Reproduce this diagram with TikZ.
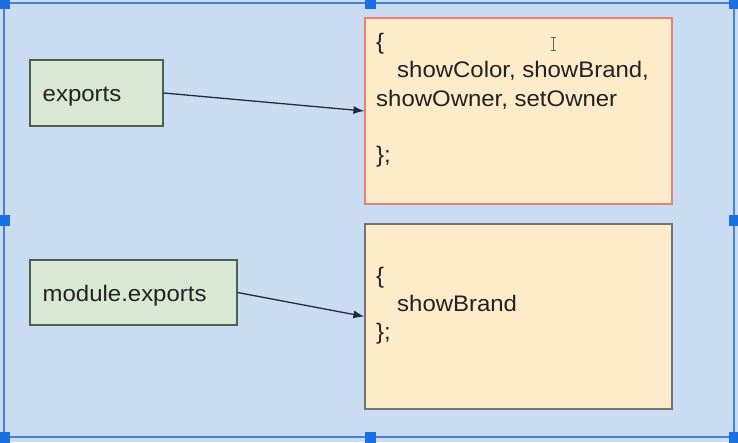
\documentclass[tikz,border=0pt]{standalone}
\usepackage{fontspec}
\usepackage{graphicx}
\setmainfont{Liberation Sans}
\usetikzlibrary{arrows.meta}
\definecolor{bgblue}{HTML}{C9DCF1}
\definecolor{framec}{HTML}{4A80D6}
\definecolor{handlec}{HTML}{1A6FE2}
\definecolor{greenfill}{HTML}{D9E8D2}
\definecolor{greenline}{HTML}{4E5E50}
\definecolor{orangefill}{HTML}{FDEBCA}
\definecolor{redline}{HTML}{E8807A}
\definecolor{grayline}{HTML}{747474}
\definecolor{arrowc}{HTML}{1F2B45}
\definecolor{textc}{HTML}{222222}
\newcommand{\wtxt}[1]{\scalebox{1.065}[1]{#1}}
\tikzset{
  greenbox/.style={draw=greenline, fill=greenfill, line width=1.2pt, rectangle, inner sep=0pt},
  codebox/.style={fill=orangefill, line width=1.2pt, rectangle, inner sep=0pt},
  label/.style={inner sep=0pt, anchor=base west, text=textc, font=\fontsize{22.5}{27}\selectfont},
  link/.style={draw=arrowc, line width=1.3pt, -{Latex[length=11pt,width=8pt]}},
  handle/.style={fill=handlec},
  frame/.style={draw=framec, line width=2.2pt}
}
\begin{document}
\begin{tikzpicture}[x=1pt,y=-1pt]
\useasboundingbox (0,0) rectangle (738,442);
\fill[bgblue] (0,0) rectangle (738,442);
% selection frame
\draw[frame] (4,3) rectangle (734,437);
\foreach \cx/\cy in {4/3,370/3,734/3,4/220,734/220,4/437,370/437,734/437}
  \fill[handle] (\cx-5.5,\cy-5.5) rectangle (\cx+5.5,\cy+5.5);
% left boxes
\node[greenbox, minimum width=133pt, minimum height=66pt] (exp) at (96.5,93) {};
\node[label] (expt) at (42.5,101.5) {\wtxt{exports}};
\node[greenbox, minimum width=207pt, minimum height=65pt] (mexp) at (133.5,292.5) {};
\node[label] (mexpt) at (42.5,301) {\wtxt{module.exports}};
% right boxes
\node[codebox, draw=redline, minimum width=307pt, minimum height=186pt] (obj1) at (518.5,111) {};
\node[label] (o1a) at (376,49.5) {\wtxt{\{}};
\node[label] (o1b) at (397,77.8) {\wtxt{showColor, showBrand,}};
\node[label] (o1c) at (376,106) {\wtxt{showOwner, setOwner}};
\node[label] (o1d) at (376,162) {\wtxt{\};}};
\node[codebox, draw=grayline, minimum width=307pt, minimum height=185pt] (obj2) at (518.5,316.5) {};
\node[label] (o2a) at (376,283) {\wtxt{\{}};
\node[label] (o2b) at (397,311) {\wtxt{showBrand}};
\node[label] (o2c) at (376,339) {\wtxt{\};}};
% text cursor
\draw[textc!70, line width=0.9pt] (553,37) -- (553,50) (550.5,37) -- (555.5,37) (550.5,50) -- (555.5,50);
% connectors
\draw[link] (exp.east) -- (obj1.west);
\draw[link] (mexp.east) -- (obj2.west);
\end{tikzpicture}
\end{document}
